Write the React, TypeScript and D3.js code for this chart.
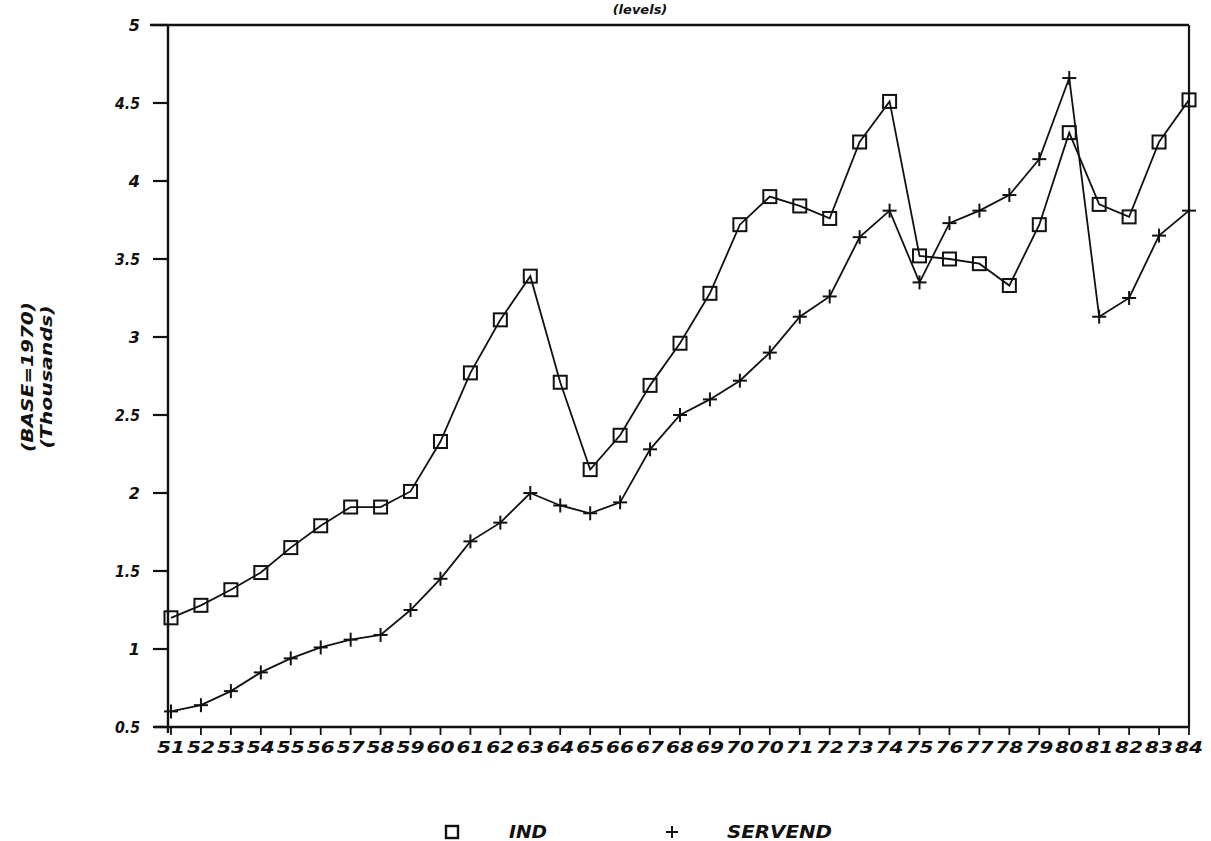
import * as React from 'react';
import * as d3 from 'd3';

const years: string[] = [
  '51', '52', '53', '54', '55', '56', '57', '58', '59', '60',
  '61', '62', '63', '64', '65', '66', '67', '68', '69', '70',
  '70', '71', '72', '73', '74', '75', '76', '77', '78', '79',
  '80', '81', '82', '83', '84'
];

const ind: number[] = [
  1.2, 1.28, 1.38, 1.49, 1.65, 1.79, 1.91, 1.91, 2.01, 2.33,
  2.77, 3.11, 3.39, 2.71, 2.15, 2.37, 2.69, 2.96, 3.28, 3.72,
  3.9, 3.84, 3.76, 4.25, 4.51, 3.52, 3.5, 3.47, 3.33, 3.72,
  4.31, 3.85, 3.77, 4.25, 4.52
];

const servend: number[] = [
  0.6, 0.64, 0.73, 0.85, 0.94, 1.01, 1.06, 1.09, 1.25, 1.45,
  1.69, 1.81, 2.0, 1.92, 1.87, 1.94, 2.28, 2.5, 2.6, 2.72,
  2.9, 3.13, 3.26, 3.64, 3.81, 3.35, 3.73, 3.81, 3.91, 4.14,
  4.66, 3.13, 3.25, 3.65, 3.81
];

const yTicks: number[] = [0.5, 1, 1.5, 2, 2.5, 3, 3.5, 4, 4.5, 5];
const yTickLabels: string[] = ['0.5', '1', '1.5', '2', '2.5', '3', '3.5', '4', '4.5', '5'];

const FONT = '"DejaVu Sans", sans-serif';

const left = 171;
const right = 1189;
const top = 25;
const bottom = 727;

export default function App() {
  const x = d3.scalePoint<number>()
    .domain(d3.range(years.length))
    .range([left, right]);
  const y = d3.scaleLinear().domain([0.5, 5]).range([bottom, top]);

  const line = d3.line<number>()
    .x((_, i) => x(i)!)
    .y(d => y(d));

  return (
    <svg width="1211" height="841" style={{ position: 'absolute', left: 0, top: 0, background: '#fff' }}
      fontFamily={FONT} fontWeight="bold" fontStyle="italic" fill="#111">
      <text x={640} y={14} textAnchor="middle" fontSize={13}>(levels)</text>

      {/* frame */}
      <line x1={150} x2={right} y1={top} y2={top} stroke="#111" strokeWidth={2.4} />
      <line x1={right} x2={right} y1={top} y2={bottom} stroke="#111" strokeWidth={2.2} />
      <line x1={left - 3} x2={left - 3} y1={top} y2={bottom + 6} stroke="#111" strokeWidth={2.4} />
      <line x1={154} x2={right} y1={bottom} y2={bottom} stroke="#111" strokeWidth={2.4} />

      {/* y axis */}
      {yTicks.map((t, i) => (
        <g key={i} transform={translate(0, y(t))}>
          <line x1={153} x2={left - 3} stroke="#111" strokeWidth={2.2} />
          {yTickLabels[i].length > 1
            ? <text x={140} dy="0.35em" textAnchor="end" fontSize={16} textLength={25} lengthAdjust="spacingAndGlyphs">{yTickLabels[i]}</text>
            : <text x={140} dy="0.35em" textAnchor="end" fontSize={16}>{yTickLabels[i]}</text>}
        </g>
      ))}

      {/* x axis */}
      {years.map((yr, i) => (
        <g key={i} transform={translate(x(i)!, bottom)}>
          <line y1={0} y2={8} stroke="#111" strokeWidth={1.8} />
          <text y={26} textAnchor="middle" fontSize={15} textLength={28} lengthAdjust="spacingAndGlyphs">{yr}</text>
        </g>
      ))}

      <g transform={translate(33, 377)}>
        <text transform="rotate(-90)" textAnchor="middle" fontSize={15} textLength={150} lengthAdjust="spacingAndGlyphs">(BASE=1970)</text>
        <text transform="rotate(-90)" y={19} textAnchor="middle" fontSize={15} textLength={143} lengthAdjust="spacingAndGlyphs">(Thousands)</text>
      </g>

      <path d={line(ind)!} fill="none" stroke="#111" strokeWidth={1.8} />
      <path d={line(servend)!} fill="none" stroke="#111" strokeWidth={1.8} />

      {ind.map((v, i) => (
        <rect key={i} x={x(i)! - 6.5} y={y(v) - 6.5} width={13} height={13}
          fill="none" stroke="#111" strokeWidth={2} />
      ))}
      {servend.map((v, i) => (
        <Plus key={i} cx={x(i)!} cy={y(v)} size={7} />
      ))}

      {/* legend */}
      <rect x={446} y={826} width={12} height={12} fill="none" stroke="#111" strokeWidth={2.4} />
      <text x={509} y={838} fontSize={17} textLength={38} lengthAdjust="spacingAndGlyphs">IND</text>
      <Plus cx={672} cy={832} size={6} />
      <text x={727} y={838} fontSize={17} textLength={105} lengthAdjust="spacingAndGlyphs">SERVEND</text>
    </svg>
  );
}

function Plus({ cx, cy, size }: { cx: number, cy: number, size: number }) {
  return (
    <g transform={translate(cx, cy)} stroke="#111" strokeWidth={2}>
      <line x1={-size} x2={size} />
      <line y1={-size} y2={size} />
    </g>
  );
}

function translate(x: number, y: number) {
  return `translate(${x}, ${y})`;
}
